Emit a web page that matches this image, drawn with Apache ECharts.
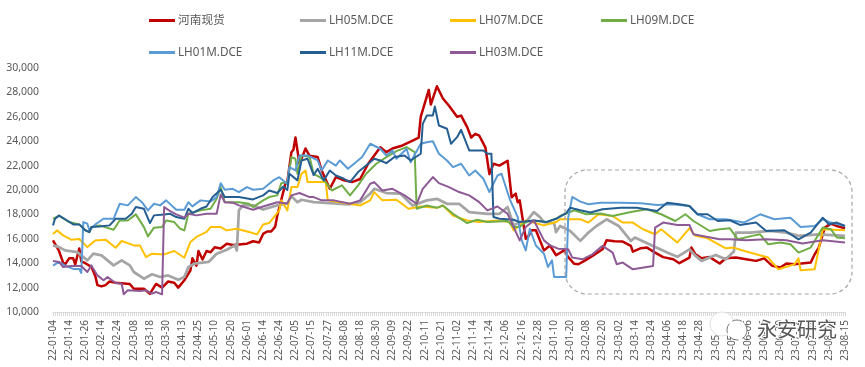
<!DOCTYPE html>
<html>
<head>
<meta charset="utf-8">
<style>
  html, body { margin: 0; padding: 0; background: #fff; }
  #chart { width: 865px; height: 367px; }
</style>
<script src="https://cdn.jsdelivr.net/npm/echarts@6/dist/echarts.min.js"></script>
</head>
<body>
<div id="chart"></div>
<script>
// one tick label every 8 trading days, x values are trading day numbers
const tickLabels = ['22-01-04','22-01-14','22-01-26','22-02-14','22-02-24','22-03-08','22-03-18','22-03-30','22-04-13','22-04-25',
  '22-05-10','22-05-20','22-06-01','22-06-14','22-06-24','22-07-05','22-07-15','22-07-27','22-08-08','22-08-18',
  '22-08-30','22-09-09','22-09-22','22-10-11','22-10-21','22-11-02','22-11-14','22-11-24','22-12-06','22-12-16',
  '22-12-28','23-01-10','23-01-20','23-02-08','23-02-20','23-03-02','23-03-14','23-03-24','23-04-06','23-04-18',
  '23-04-28','23-05-15','23-05-25','23-06-06','23-06-16','23-06-30','23-07-12','23-07-24','23-08-03','23-08-15'];

const spot = [[0,15870],[2,15300],[3,15000],[5,14050],[6,13900],[8,14400],[10,14400],[11,13900],[13,15200],[14,14150],[16,14000],[19,13700],[21,12900],[22,12200],[24,12100],[26,12200],[28,12500],[31,12400],[38,12300],[40,11900],[45,11900],[48,11500],[51,12300],[54,12000],[57,12500],[60,12400],[62,12000],[65,12600],[68,13400],[69,14400],[71,13800],[72,15000],[74,14300],[76,15000],[78,14900],[80,15300],[83,15200],[86,15600],[89,15500],[96,15600],[99,15800],[102,15700],[104,16400],[106,16600],[108,16600],[110,17000],[111,17900],[113,19200],[115,20500],[116,20700],[118,23100],[119,23300],[120,24300],
  [122,22150],[125,23400],[127,22800],[131,22700],[133,21600],[137,20100],[140,21050],[144,20800],[148,20650],[152,20900],[156,22150],[162,23500],[165,23100],[168,23400],[173,23650],[178,24050],[181,24300],[182,26000],[186,28200],[187,27000],[190,28500],[193,27500],[196,26900],[200,26000],[202,26100],[205,25150],[207,24300],[209,24600],[211,24450],[214,23500],[216,21300],[218,22150],[221,22000],[225,22400],[227,19400],[229,19700],[230,19000],[231,19150],[234,16000],[235,16150],[237,16700],[239,16700],[243,15050],[246,15450],[249,14650],[253,15050],[255,14500],[258,13950],
  [260,13915],[263,14190],[267,14600],[272,15150],[274,15880],[278,15800],[282,15770],[286,15420],[287,14950],[291,15230],[294,15280],[298,14870],[302,14500],[307,14320],[310,14000],[315,14460],[316,15280],[318,14730],[321,14400],[325,14500],[330,13970],[333,14400],[338,14460],[343,14320],[348,14190],[352,14400],[356,13780],[360,13640],[363,13970],[367,13915],[375,14050],[377,14730],[379,15280],[381,16370],[382,16920],[385,17240],[388,17050],[392,16860]];

const lh05 = [[0,15460],[3,15320],[6,15050],[12,14910],[17,14230],[20,14780],[24,14640],[30,13820],[34,14230],[38,13820],[40,13280],[45,12730],[49,13090],[53,12870],[57,13000],[62,12650],[65,12870],[67,13690],[70,13960],[77,14100],[81,14780],[86,15100],[90,15460],[91,15050],[92,18330],[94,18740],[99,18740],[104,18400],[110,18700],[116,18900],[118,19500],[121,19000],[123,19200],[129,19000],[139,18900],
  [146,18820],[152,19000],[157,19700],[159,20100],[165,19750],[172,19700],[178,18730],[185,19150],[190,19280],[195,18870],[201,18870],[206,18190],[215,18050],[221,18050],[225,18600],[228,17100],[231,17370],[234,17370],[238,18190],[241,17780],[243,17370],[248,17290],[249,16550],
  [251,17050],[256,16640],[261,15830],[265,16510],[269,17050],[274,17600],[280,17050],[286,15830],[288,16100],[297,15420],[304,14870],[309,14520],[315,15140],[318,14600],[321,14190],[328,14680],[333,14320],[337,14950],[338,16510],[345,16510],[355,16640],[363,16510],[369,16240],[379,16370],[392,16240]];

const lh07 = [[0,16400],[2,16690],[5,16280],[9,15930],[13,15980],[17,15320],[21,15870],[26,15930],[31,15270],[34,15820],[40,15460],[43,15460],[46,14500],[49,14780],[55,14720],[60,15000],[65,14450],[68,15730],[71,16150],[76,16560],[78,16960],[83,16960],[86,16690],[91,16820],[97,16560],[101,16360],[104,17180],[107,17290],[112,18330],[113,19150],[116,18330],[118,20240],[121,20240],[123,21330],[125,21600],[126,20650],[135,20650],[136,19150],
  [142,19000],[152,18730],[157,19150],[159,19830],[163,19150],[170,19200],[176,18460],[182,18650],[190,18540],[193,18730],[198,17900],[205,17500],[211,17370],[220,17500],[226,17370],[228,16690],[230,16960],[234,17500],[243,17100],[249,17370],
  [251,17600],[256,17600],[261,17600],[265,17330],[270,18010],[277,17870],[282,17330],[287,17330],[292,16780],[298,16370],[301,16780],[309,15690],[315,16860],[318,16240],[324,16040],[333,15220],[337,15280],[341,15060],[348,14730],[354,14460],[359,13500],[367,13915],[369,14400],[370,13420],[377,13500],[381,16780],[392,16700]];

const lh09 = [[0,17640],[3,17900],[8,17370],[13,17180],[16,16700],[18,16550],[19,16960],[23,17100],[30,16740],[33,17500],[37,17500],[41,18000],[45,16960],[47,16200],[50,16910],[54,16960],[56,17500],[60,17370],[63,16820],[65,16690],[67,18050],[73,18330],[78,18460],[81,19280],[83,20240],[85,19000],[92,19000],[97,18870],[99,18600],[104,19150],[107,19420],[111,19560],[113,20560],[116,20650],[118,22700],[120,22560],
  [121,21330],[123,22830],[127,22700],[129,21330],[132,21060],[135,20650],[138,19960],[143,20380],[147,19550],[151,20380],[155,21330],[160,22150],[165,22700],[170,23190],[175,23510],[179,23100],[180,18460],[185,18730],[190,18540],[193,18730],[198,18050],[205,17290],[210,17560],[215,17370],[225,17450],[228,16960],[231,16960],[234,17370],[238,17500],[244,17370],[249,17640],
  [251,17870],[258,18340],[264,18010],[271,18070],[277,17870],[286,18200],[294,18420],[301,18010],[308,17460],[313,18010],[317,17460],[321,17050],[325,16640],[330,16780],[335,16860],[339,15960],[346,16240],[350,16370],[354,15550],[360,15690],[365,15550],[369,14870],[375,15280],[381,16920],[385,16780],[388,16100],[392,16050]];

const lh01 = [[0,13800],[3,14100],[6,13800],[10,13530],[13,13530],[14,13200],[15,17370],[17,17240],[18,16700],[21,17180],[25,17640],[30,17640],[33,18870],[37,18740],[41,19420],[44,19000],[47,18330],[50,18870],[53,18740],[56,19150],[61,18380],[65,18380],[67,19000],[69,18660],[73,19150],[78,19060],[81,19420],[83,20560],[85,20020],[89,20100],[92,19830],[96,20240],[99,20020],[104,20100],[109,20780],[112,21050],[116,20500],
  [117,21870],[120,21600],[122,22830],[126,22830],[131,22420],[133,21600],[136,22420],[140,22000],[142,22420],[146,21740],[149,22150],[153,22700],[157,23790],[162,23380],[165,22830],[168,23240],[170,22560],[175,23380],[177,22280],[182,23790],[185,23920],[188,24000],[191,22970],[195,22420],[198,21870],[202,22150],[206,21190],[209,21600],[213,20920],[216,19830],[220,21190],[222,21330],[226,19280],[230,17780],[232,15870],[234,15050],[236,16825],[239,15450],[243,14780],[245,13690],[247,14230],[248,12870],[254,12870],
  [255,17730],[257,19430],[261,19050],[265,18830],[271,18960],[281,18960],[291,18910],[299,18770],[306,18830],[315,18690],[319,18010],[325,17600],[333,17600],[342,17330],[350,18010],[357,17600],[365,17730],[370,16970],[377,17050],[381,17600],[385,17330],[392,17050]];

const lh11 = [[0,17100],[1,17640],[3,17900],[7,17500],[10,17180],[13,17180],[16,16700],[18,16550],[19,16960],[23,17010],[28,17100],[31,17640],[36,17640],[39,18050],[41,18600],[45,18460],[48,17290],[50,17920],[55,18000],[58,18050],[61,17780],[65,17640],[67,18460],[69,18110],[73,18460],[76,18650],[79,19420],[83,20020],[85,19420],[89,19420],[92,19420],[99,19230],[104,19560],[107,19960],[111,19750],[114,20290],[116,20000],
  [117,21330],[121,20790],[123,22420],[126,22560],[129,21220],[131,21740],[134,20790],[137,21600],[140,21190],[144,20920],[147,20650],[151,21470],[155,22010],[159,22560],[162,22420],[165,22200],[169,22700],[174,22830],[177,22420],[182,22970],[183,25420],[185,26100],[188,26100],[189,26840],[191,25290],[195,25020],[197,23790],[200,24330],[202,24930],[206,23240],[213,23240],[215,22970],[217,22970],[218,17780],[221,17640],[228,17560],[231,17370],[238,17500],[244,17370],[249,17640],[254,18110],
  [256,18550],[261,18340],[266,18150],[272,18420],[281,18550],[289,18550],[299,18280],[304,18960],[310,18830],[315,18690],[319,18010],[324,18010],[329,17460],[335,17520],[340,17140],[348,17330],[353,16640],[362,16700],[369,15960],[375,16510],[381,17730],[384,17190],[388,17330],[392,17050]];

const lh03 = [[0,14180],[3,14100],[5,13680],[9,13770],[14,13770],[17,13280],[19,13820],[22,13000],[25,12600],[27,12870],[31,12380],[34,12320],[35,11450],[37,11780],[43,11720],[46,11780],[49,11500],[51,11640],[54,11450],[55,18600],[58,18270],[61,18000],[65,17730],[67,18050],[71,17920],[76,18050],[81,18050],[83,19640],[85,19000],[89,18960],[92,18740],[99,18380],[104,18650],[111,19000],[116,18900],
  [118,19560],[122,19750],[127,19420],[129,19420],[133,19150],[139,19150],[147,18870],[152,19150],[157,20510],[159,20650],[163,19960],[168,20100],[174,19560],[180,18870],[183,20100],[188,21060],[191,20560],[196,20230],[201,19830],[206,19560],[211,19000],[215,18330],[220,18650],[225,18050],[228,16960],[231,15870],[234,16960],[238,17500],[243,15870],[246,15460],[250,15190],
  [255,15140],[257,14460],[262,14320],[267,14730],[272,15420],[277,14870],[279,13920],[282,14050],[287,13500],[297,13770],[298,16920],[302,17330],[309,17140],[315,17140],[317,16370],[324,16150],[330,15960],[335,15960],[343,15880],[353,15960],[363,15880],[371,15610],[381,15880],[392,15690]];

const seriesList = [
  { name: '河南现货', data: spot, color: '#C00000', width: 2.5 },
  { name: 'LH05M.DCE', data: lh05, color: '#A5A5A5', width: 2.75 },
  { name: 'LH07M.DCE', data: lh07, color: '#FFC000', width: 2 },
  { name: 'LH09M.DCE', data: lh09, color: '#70AD47', width: 2 },
  { name: 'LH01M.DCE', data: lh01, color: '#5B9BD5', width: 2 },
  { name: 'LH11M.DCE', data: lh11, color: '#255E91', width: 2 },
  { name: 'LH03M.DCE', data: lh03, color: '#8E5A96', width: 2 }
];

const textColor = '#595959';
const fontName = '"Noto Sans", "Noto Sans CJK SC", sans-serif';

function makeLegend(names, left) {
  return {
    data: names,
    left: left,
    top: 8,
    orient: 'vertical',
    icon: 'rect',
    itemWidth: 26,
    itemHeight: 3,
    itemGap: 17,
    textStyle: { color: textColor, fontSize: 11.7, fontFamily: fontName, padding: [0, 0, 0, -2], lineHeight: 15 }
  };
}

const chart = echarts.init(document.getElementById('chart'), null, { renderer: 'canvas' });

chart.setOption({
  animation: false,
  backgroundColor: '#fff',
  legend: [
    makeLegend(['河南现货', 'LH01M.DCE'], 144),
    makeLegend(['LH05M.DCE', 'LH11M.DCE'], 295),
    makeLegend(['LH07M.DCE', 'LH03M.DCE'], 445),
    makeLegend(['LH09M.DCE'], 596)
  ],
  grid: { left: 53, right: 20, top: 68, bottom: 55 },
  xAxis: {
    type: 'value',
    min: 0,
    max: 392,
    interval: 8,
    splitLine: { show: false },
    axisLine: { lineStyle: { color: '#D9D9D9' } },
    axisTick: { show: true, length: 4, lineStyle: { color: '#D9D9D9' } },
    minorTick: { show: true, splitNumber: 8, length: 4, lineStyle: { color: '#D9D9D9' } },
    axisLabel: {
      rotate: 90,
      margin: 8,
      fontSize: 10,
      fontFamily: fontName,
      color: textColor,
      showMinLabel: true,
      showMaxLabel: true,
      hideOverlap: false,
      formatter: function (v) { return tickLabels[v / 8]; }
    }
  },
  yAxis: {
    type: 'value',
    min: 10000,
    max: 30000,
    interval: 2000,
    splitLine: { show: false },
    axisLine: { show: false },
    axisTick: { show: false },
    axisLabel: {
      margin: 14,
      fontSize: 10.5,
      fontFamily: fontName,
      color: textColor,
      formatter: function (v) { return v.toLocaleString('en-US'); }
    }
  },
  series: seriesList.map(function (s) {
    return {
      name: s.name,
      type: 'line',
      data: s.data,
      showSymbol: false,
      symbol: 'none',
      smooth: false,
      itemStyle: { color: s.color },
      lineStyle: { color: s.color, width: s.width, join: 'round' }
    };
  }),
  graphic: [
    {
      type: 'rect',
      shape: { x: 565, y: 170, width: 287, height: 124, r: 22 },
      style: { fill: 'none', stroke: '#A6A6A6', lineWidth: 1.2, lineDash: [4, 3] },
      z: 10
    },
    // watermark over the tick labels
    {
      type: 'circle',
      shape: { cx: 722, cy: 324, r: 12 },
      style: { fill: '#fff', stroke: '#e2e2e2', lineWidth: 1 },
      z: 20
    },
    {
      type: 'circle',
      shape: { cx: 737, cy: 330, r: 10 },
      style: { fill: '#fff', stroke: '#555', lineWidth: 0.8, lineDash: [10, 4] },
      z: 21
    },
    {
      type: 'text',
      left: 756,
      top: 318,
      style: {
        text: '永安研究',
        fontSize: 20,
        fontFamily: '"Noto Sans CJK SC", sans-serif',
        fill: '#555',
        stroke: '#fff',
        lineWidth: 2
      },
      z: 22
    }
  ]
});
</script>
</body>
</html>
